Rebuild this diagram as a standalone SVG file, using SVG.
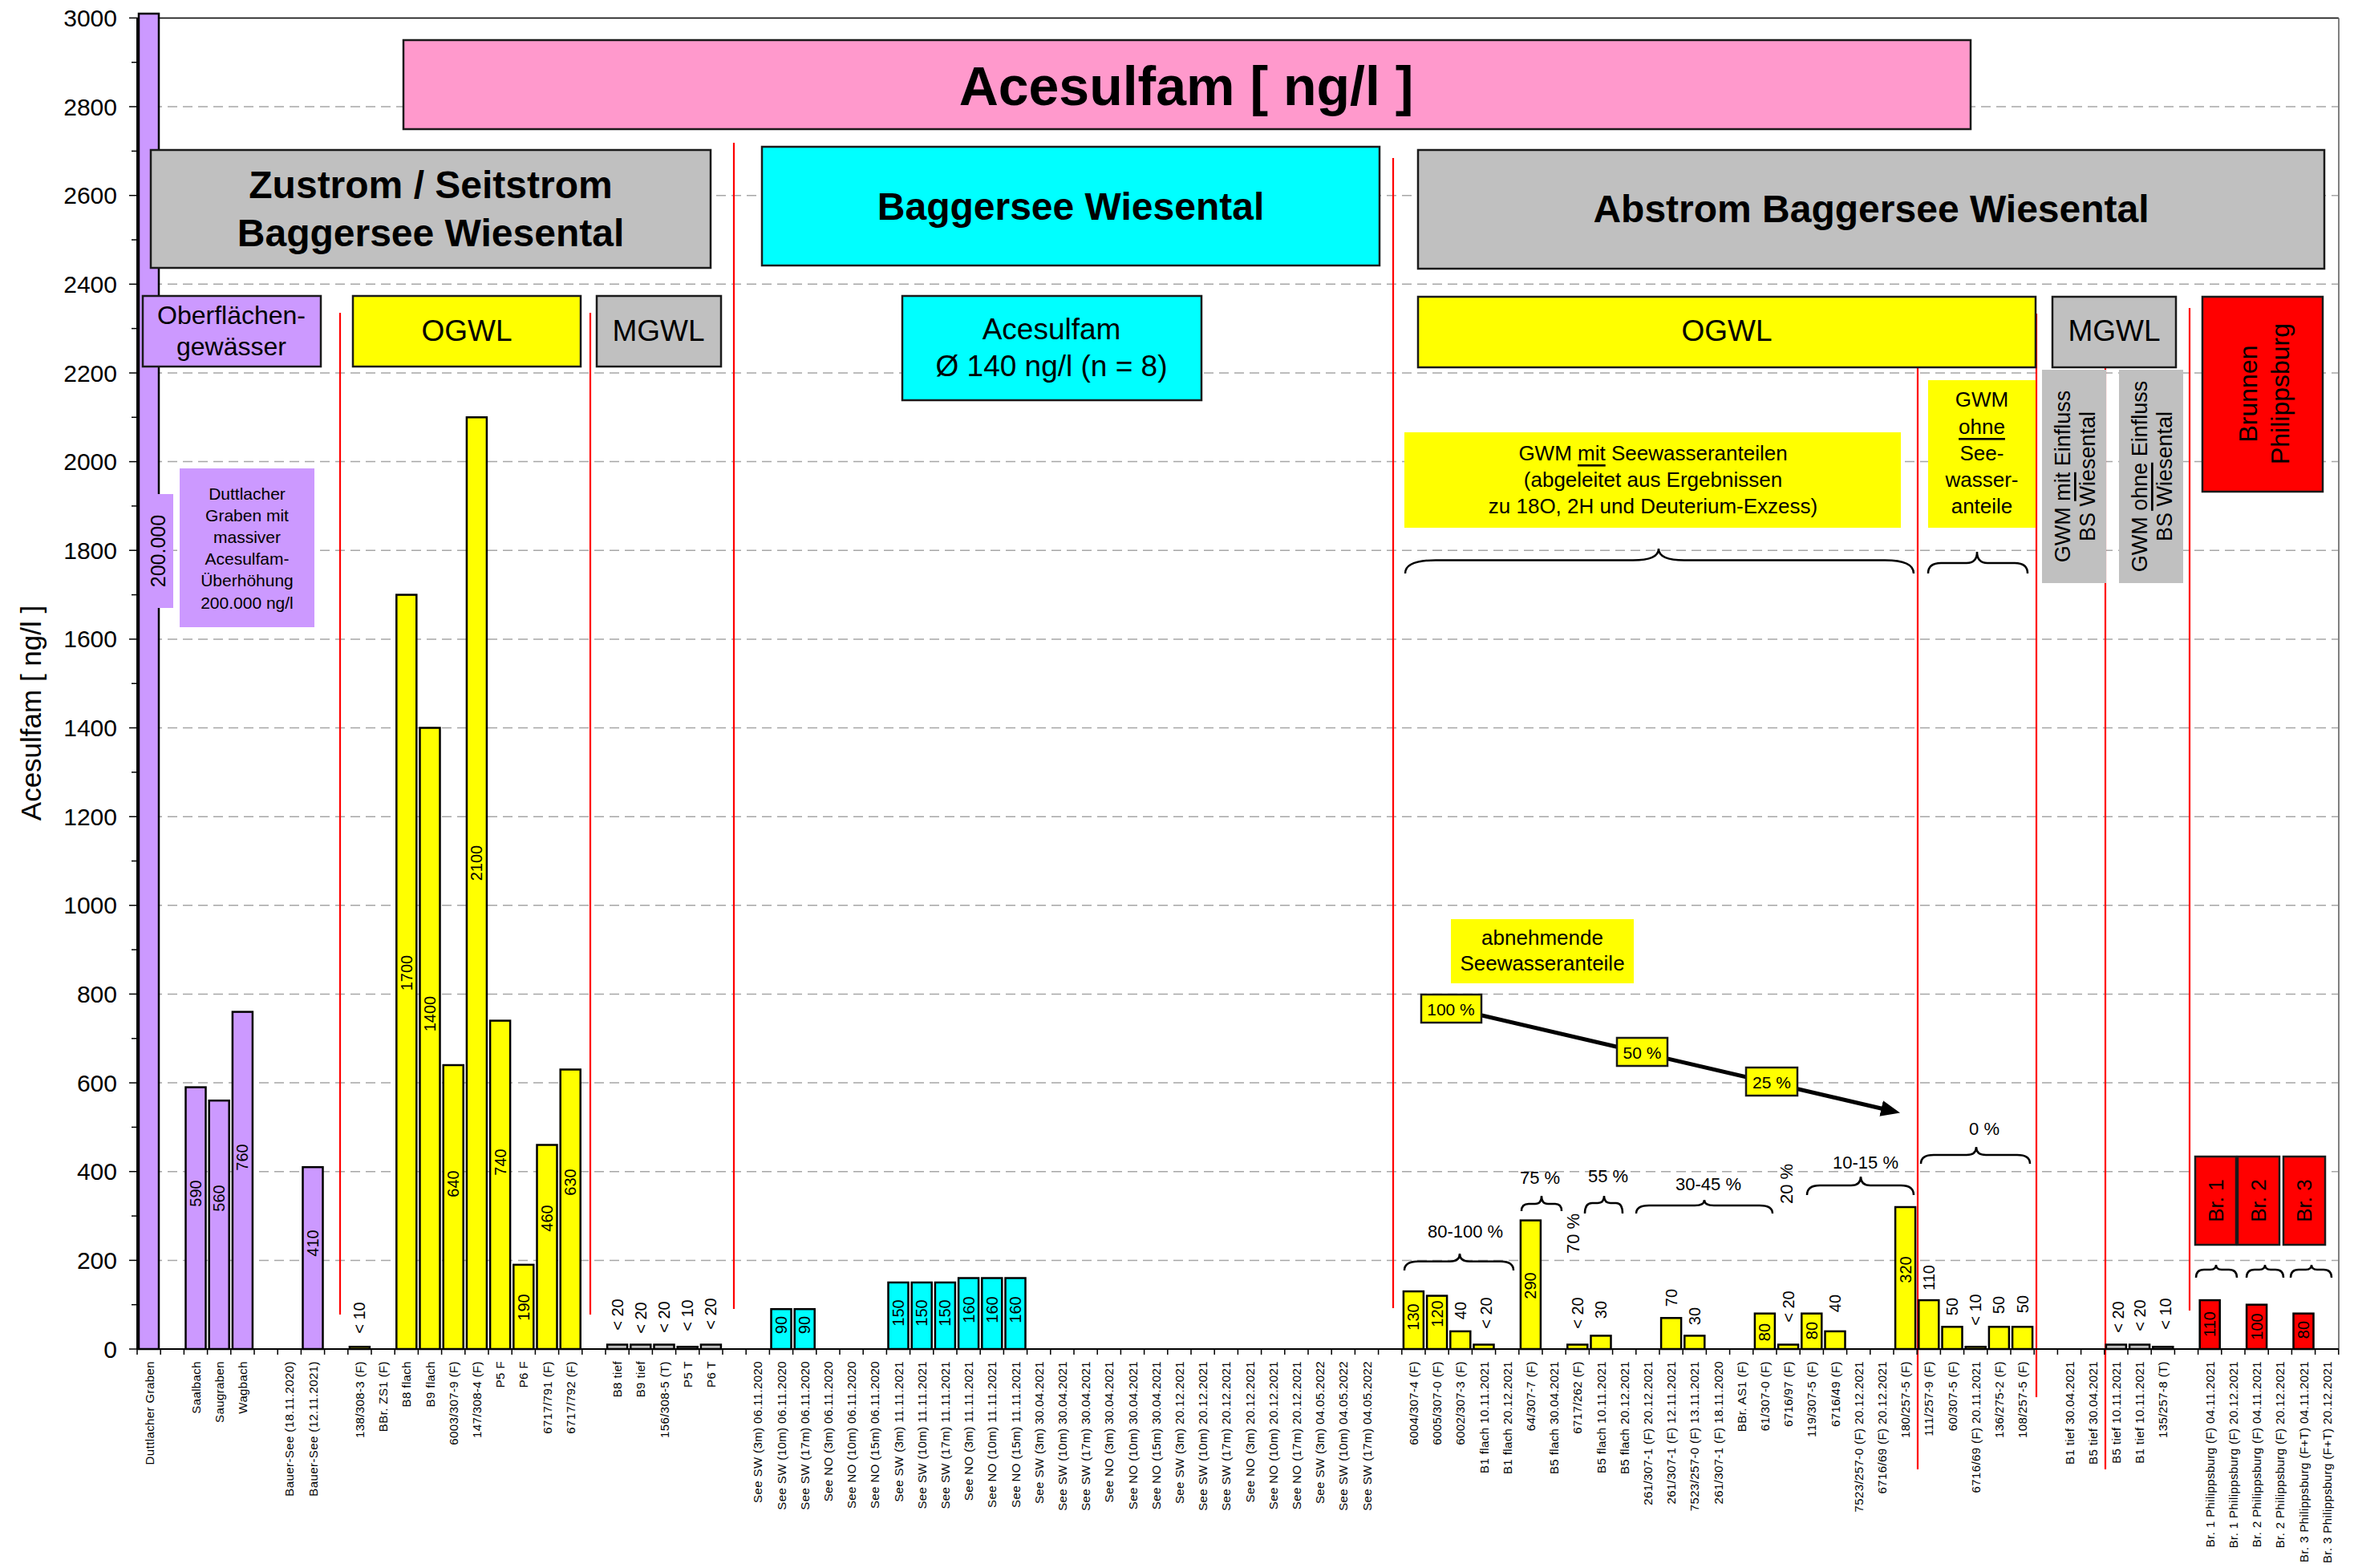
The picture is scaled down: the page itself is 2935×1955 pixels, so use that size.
<svg xmlns="http://www.w3.org/2000/svg" width="2935" height="1955" viewBox="0 0 2935 1955">
<style>
text{font-family:"Liberation Sans",Arial,sans-serif;fill:#000}
.bar{stroke:#000;stroke-width:2.5}
.pu{fill:#CC99FF}.ye{fill:#FFFF00}.cy{fill:#00FFFF}.gr{fill:#C0C0C0}.re{fill:#FF0000}.pk{fill:#FF99CC}
.box{stroke:#1a1a1a;stroke-width:2.5}
.grid{stroke:#a6a6a6;stroke-width:1.5;stroke-dasharray:12 7}
.sep{stroke:#FF0000;stroke-width:2.2}
.tick{stroke:#000;stroke-width:1.5}
.brace{fill:none;stroke:#000;stroke-width:2.5}
.xl{font-size:15px;letter-spacing:0.4px;text-anchor:end;dominant-baseline:central}
.vl{font-size:20px;text-anchor:middle;dominant-baseline:central}
.yl{font-size:30px;text-anchor:end;dominant-baseline:central}
.c{text-anchor:middle;dominant-baseline:central}
.hb{font-weight:bold;font-size:48px}
.h2{font-size:37px}
.pc{font-size:22px}
.u{text-decoration:underline}
</style>
<defs>
<marker id="arrowhead" markerUnits="userSpaceOnUse" markerWidth="26" markerHeight="22" refX="2" refY="10" orient="auto">
<path d="M0,0 L24,10 L0,20 z" fill="#000"/>
</marker>
</defs>
<rect width="2935" height="1955" fill="#fff"/>

<!-- plot frame and horizontal grid -->
<g id="grid">
<line class="grid" x1="171" y1="1571.4" x2="2916" y2="1571.4"/>
<line class="grid" x1="171" y1="1460.7" x2="2916" y2="1460.7"/>
<line class="grid" x1="171" y1="1350.1" x2="2916" y2="1350.1"/>
<line class="grid" x1="171" y1="1239.4" x2="2916" y2="1239.4"/>
<line class="grid" x1="171" y1="1128.8" x2="2916" y2="1128.8"/>
<line class="grid" x1="171" y1="1018.2" x2="2916" y2="1018.2"/>
<line class="grid" x1="171" y1="907.5" x2="2916" y2="907.5"/>
<line class="grid" x1="171" y1="796.9" x2="2916" y2="796.9"/>
<line class="grid" x1="171" y1="686.2" x2="2916" y2="686.2"/>
<line class="grid" x1="171" y1="575.6" x2="2916" y2="575.6"/>
<line class="grid" x1="171" y1="465.0" x2="2916" y2="465.0"/>
<line class="grid" x1="171" y1="354.3" x2="2916" y2="354.3"/>
<line class="grid" x1="171" y1="243.7" x2="2916" y2="243.7"/>
<line class="grid" x1="171" y1="133.0" x2="2916" y2="133.0"/>
<line x1="171" y1="22.4" x2="2916" y2="22.4" stroke="#000" stroke-width="1.5"/>
<line x1="2916" y1="22.4" x2="2916" y2="1682" stroke="#808080" stroke-width="2"/>
</g>

<!-- y axis -->
<g id="y-axis">
<line x1="171" y1="22.4" x2="171" y2="1682" stroke="#000" stroke-width="2"/>
<g class="tick">
<line x1="161" y1="1682" x2="171" y2="1682"/><line x1="161" y1="1571.4" x2="171" y2="1571.4"/><line x1="161" y1="1460.7" x2="171" y2="1460.7"/><line x1="161" y1="1350.1" x2="171" y2="1350.1"/><line x1="161" y1="1239.4" x2="171" y2="1239.4"/><line x1="161" y1="1128.8" x2="171" y2="1128.8"/><line x1="161" y1="1018.2" x2="171" y2="1018.2"/><line x1="161" y1="907.5" x2="171" y2="907.5"/><line x1="161" y1="796.9" x2="171" y2="796.9"/><line x1="161" y1="686.2" x2="171" y2="686.2"/><line x1="161" y1="575.6" x2="171" y2="575.6"/><line x1="161" y1="465.0" x2="171" y2="465.0"/><line x1="161" y1="354.3" x2="171" y2="354.3"/><line x1="161" y1="243.7" x2="171" y2="243.7"/><line x1="161" y1="133.0" x2="171" y2="133.0"/><line x1="161" y1="22.4" x2="171" y2="22.4"/>
<line x1="164" y1="1626.7" x2="171" y2="1626.7"/><line x1="164" y1="1516.1" x2="171" y2="1516.1"/><line x1="164" y1="1405.4" x2="171" y2="1405.4"/><line x1="164" y1="1294.8" x2="171" y2="1294.8"/><line x1="164" y1="1184.1" x2="171" y2="1184.1"/><line x1="164" y1="1073.5" x2="171" y2="1073.5"/><line x1="164" y1="962.8" x2="171" y2="962.8"/><line x1="164" y1="852.2" x2="171" y2="852.2"/><line x1="164" y1="741.6" x2="171" y2="741.6"/><line x1="164" y1="630.9" x2="171" y2="630.9"/><line x1="164" y1="520.3" x2="171" y2="520.3"/><line x1="164" y1="409.6" x2="171" y2="409.6"/><line x1="164" y1="299.0" x2="171" y2="299.0"/><line x1="164" y1="188.4" x2="171" y2="188.4"/><line x1="164" y1="77.7" x2="171" y2="77.7"/>
</g>
<text class="yl" x="146" y="1682">0</text>
<text class="yl" x="146" y="1571.4">200</text>
<text class="yl" x="146" y="1460.7">400</text>
<text class="yl" x="146" y="1350.1">600</text>
<text class="yl" x="146" y="1239.4">800</text>
<text class="yl" x="146" y="1128.8">1000</text>
<text class="yl" x="146" y="1018.2">1200</text>
<text class="yl" x="146" y="907.5">1400</text>
<text class="yl" x="146" y="796.9">1600</text>
<text class="yl" x="146" y="686.2">1800</text>
<text class="yl" x="146" y="575.6">2000</text>
<text class="yl" x="146" y="465.0">2200</text>
<text class="yl" x="146" y="354.3">2400</text>
<text class="yl" x="146" y="243.7">2600</text>
<text class="yl" x="146" y="133.0">2800</text>
<text class="yl" x="146" y="22.4">3000</text>
<text class="c" font-size="35" transform="translate(38,889) rotate(-90)">Acesulfam [ ng/l ]</text>
</g>

<!-- red separator lines between sampling groups -->
<g id="separators" class="sep">
<line x1="424" y1="390" x2="424" y2="1639"/>
<line x1="736" y1="390" x2="736" y2="1639"/>
<line x1="915" y1="178" x2="915" y2="1632"/>
<line x1="1737" y1="197" x2="1737" y2="1631"/>
<line x1="2391" y1="455" x2="2391" y2="1832"/>
<line x1="2539" y1="391" x2="2539" y2="1742"/>
<line x1="2625" y1="448" x2="2625" y2="1832"/>
<line x1="2730" y1="384" x2="2730" y2="1634"/>
</g>

<!-- bars -->
<g id="bars" class="bar">
<rect class="pu" x="173" y="17" width="25" height="1665"/>
<rect class="pu" x="231.5" y="1355.6" width="25" height="326.4"/>
<rect class="pu" x="260.7" y="1372.2" width="25" height="309.8"/>
<rect class="pu" x="289.9" y="1261.6" width="25" height="420.4"/>
<rect class="pu" x="377.5" y="1455.2" width="25" height="226.8"/>
<rect class="ye" x="435.9" y="1679.2" width="25" height="2.8"/>
<rect class="ye" x="494.3" y="741.6" width="25" height="940.4"/>
<rect class="ye" x="523.5" y="907.5" width="25" height="774.5"/>
<rect class="ye" x="552.7" y="1328" width="25" height="354"/>
<rect class="ye" x="581.9" y="520.3" width="25" height="1161.7"/>
<rect class="ye" x="611.1" y="1272.6" width="25" height="409.4"/>
<rect class="ye" x="640.3" y="1576.9" width="25" height="105.1"/>
<rect class="ye" x="669.5" y="1427.5" width="25" height="254.5"/>
<rect class="ye" x="698.7" y="1333.5" width="25" height="348.5"/>
<rect class="gr" x="757.1" y="1676.5" width="25" height="5.5"/>
<rect class="gr" x="786.3" y="1676.5" width="25" height="5.5"/>
<rect class="gr" x="815.5" y="1676.5" width="25" height="5.5"/>
<rect class="gr" x="844.7" y="1679.2" width="25" height="2.8"/>
<rect class="gr" x="873.9" y="1676.5" width="25" height="5.5"/>
<rect class="cy" x="961.5" y="1632.2" width="25" height="49.8"/>
<rect class="cy" x="990.7" y="1632.2" width="25" height="49.8"/>
<rect class="cy" x="1107.5" y="1599" width="25" height="83"/>
<rect class="cy" x="1136.7" y="1599" width="25" height="83"/>
<rect class="cy" x="1165.9" y="1599" width="25" height="83"/>
<rect class="cy" x="1195.1" y="1593.5" width="25" height="88.5"/>
<rect class="cy" x="1224.3" y="1593.5" width="25" height="88.5"/>
<rect class="cy" x="1253.5" y="1593.5" width="25" height="88.5"/>
<rect class="ye" x="1749.9" y="1610.1" width="25" height="71.9"/>
<rect class="ye" x="1779.1" y="1615.6" width="25" height="66.4"/>
<rect class="ye" x="1808.3" y="1659.9" width="25" height="22.1"/>
<rect class="ye" x="1837.5" y="1676.5" width="25" height="5.5"/>
<rect class="ye" x="1895.9" y="1521.6" width="25" height="160.4"/>
<rect class="ye" x="1954.3" y="1676.5" width="25" height="5.5"/>
<rect class="ye" x="1983.5" y="1665.4" width="25" height="16.6"/>
<rect class="ye" x="2071.1" y="1643.3" width="25" height="38.7"/>
<rect class="ye" x="2100.3" y="1665.4" width="25" height="16.6"/>
<rect class="ye" x="2187.9" y="1637.7" width="25" height="44.3"/>
<rect class="ye" x="2217.1" y="1676.5" width="25" height="5.5"/>
<rect class="ye" x="2246.3" y="1637.7" width="25" height="44.3"/>
<rect class="ye" x="2275.5" y="1659.9" width="25" height="22.1"/>
<rect class="ye" x="2363.1" y="1505" width="25" height="177"/>
<rect class="ye" x="2392.3" y="1621.1" width="25" height="60.9"/>
<rect class="ye" x="2421.5" y="1654.3" width="25" height="27.7"/>
<rect class="ye" x="2450.7" y="1679.2" width="25" height="2.8"/>
<rect class="ye" x="2479.9" y="1654.3" width="25" height="27.7"/>
<rect class="ye" x="2509.1" y="1654.3" width="25" height="27.7"/>
<rect class="gr" x="2625.9" y="1676.5" width="25" height="5.5"/>
<rect class="gr" x="2655.1" y="1676.5" width="25" height="5.5"/>
<rect class="gr" x="2684.3" y="1679.2" width="25" height="2.8"/>
<rect class="re" x="2742.7" y="1621.1" width="25" height="60.9"/>
<rect class="re" x="2801.1" y="1626.7" width="25" height="55.3"/>
<rect class="re" x="2859.5" y="1637.7" width="25" height="44.3"/>
</g>

<!-- x axis with category ticks -->
<g id="x-axis">
<line x1="171" y1="1682" x2="2916" y2="1682" stroke="#000" stroke-width="2"/>
<path class="tick" d="M171,1682v7M200.2,1682v7M229.4,1682v7M258.6,1682v7M287.8,1682v7M317,1682v7M346.2,1682v7M375.4,1682v7M404.6,1682v7M433.8,1682v7M463,1682v7M492.2,1682v7M521.4,1682v7M550.6,1682v7M579.8,1682v7M609,1682v7M638.2,1682v7M667.4,1682v7M696.6,1682v7M725.8,1682v7M755,1682v7M784.2,1682v7M813.4,1682v7M842.6,1682v7M871.8,1682v7M901,1682v7M930.2,1682v7M959.4,1682v7M988.6,1682v7M1017.8,1682v7M1047,1682v7M1076.2,1682v7M1105.4,1682v7M1134.6,1682v7M1163.8,1682v7M1193,1682v7M1222.2,1682v7M1251.4,1682v7M1280.6,1682v7M1309.8,1682v7M1339,1682v7M1368.2,1682v7M1397.4,1682v7M1426.6,1682v7M1455.8,1682v7M1485,1682v7M1514.2,1682v7M1543.4,1682v7M1572.6,1682v7M1601.8,1682v7M1631,1682v7M1660.2,1682v7M1689.4,1682v7M1718.6,1682v7M1747.8,1682v7M1777,1682v7M1806.2,1682v7M1835.4,1682v7M1864.6,1682v7M1893.8,1682v7M1923,1682v7M1952.2,1682v7M1981.4,1682v7M2010.6,1682v7M2039.8,1682v7M2069,1682v7M2098.2,1682v7M2127.4,1682v7M2156.6,1682v7M2185.8,1682v7M2215,1682v7M2244.2,1682v7M2273.4,1682v7M2302.6,1682v7M2331.8,1682v7M2361,1682v7M2390.2,1682v7M2419.4,1682v7M2448.6,1682v7M2477.8,1682v7M2507,1682v7M2536.2,1682v7M2565.4,1682v7M2594.6,1682v7M2623.8,1682v7M2653,1682v7M2682.2,1682v7M2711.4,1682v7M2740.6,1682v7M2769.8,1682v7M2799,1682v7M2828.2,1682v7M2857.4,1682v7M2886.6,1682v7M2915.8,1682v7"/>
</g>

<!-- category labels -->
<g id="x-labels">
<text class="xl" transform="translate(186,1697) rotate(-90)">Duttlacher Graben</text>
<text class="xl" transform="translate(244,1697) rotate(-90)">Saalbach</text>
<text class="xl" transform="translate(273.2,1697) rotate(-90)">Saugraben</text>
<text class="xl" transform="translate(302.4,1697) rotate(-90)">Wagbach</text>
<text class="xl" transform="translate(360.8,1697) rotate(-90)">Bauer-See (18.11.2020)</text>
<text class="xl" transform="translate(390,1697) rotate(-90)">Bauer-See (12.11.2021)</text>
<text class="xl" transform="translate(448.4,1697) rotate(-90)">138/308-3 (F)</text>
<text class="xl" transform="translate(477.6,1697) rotate(-90)">BBr. ZS1 (F)</text>
<text class="xl" transform="translate(506.8,1697) rotate(-90)">B8 flach</text>
<text class="xl" transform="translate(536,1697) rotate(-90)">B9 flach</text>
<text class="xl" transform="translate(565.2,1697) rotate(-90)">6003/307-9 (F)</text>
<text class="xl" transform="translate(594.4,1697) rotate(-90)">147/308-4 (F)</text>
<text class="xl" transform="translate(623.6,1697) rotate(-90)">P5 F</text>
<text class="xl" transform="translate(652.8,1697) rotate(-90)">P6 F</text>
<text class="xl" transform="translate(682,1697) rotate(-90)">6717/791 (F)</text>
<text class="xl" transform="translate(711.2,1697) rotate(-90)">6717/792 (F)</text>
<text class="xl" transform="translate(769.6,1697) rotate(-90)">B8 tief</text>
<text class="xl" transform="translate(798.8,1697) rotate(-90)">B9 tief</text>
<text class="xl" transform="translate(828,1697) rotate(-90)">156/308-5 (T)</text>
<text class="xl" transform="translate(857.2,1697) rotate(-90)">P5 T</text>
<text class="xl" transform="translate(886.4,1697) rotate(-90)">P6 T</text>
<text class="xl" transform="translate(944.8,1697) rotate(-90)">See SW (3m) 06.11.2020</text>
<text class="xl" transform="translate(974,1697) rotate(-90)">See SW (10m) 06.11.2020</text>
<text class="xl" transform="translate(1003.2,1697) rotate(-90)">See SW (17m) 06.11.2020</text>
<text class="xl" transform="translate(1032.4,1697) rotate(-90)">See NO (3m) 06.11.2020</text>
<text class="xl" transform="translate(1061.6,1697) rotate(-90)">See NO (10m) 06.11.2020</text>
<text class="xl" transform="translate(1090.8,1697) rotate(-90)">See NO (15m) 06.11.2020</text>
<text class="xl" transform="translate(1120,1697) rotate(-90)">See SW (3m) 11.11.2021</text>
<text class="xl" transform="translate(1149.2,1697) rotate(-90)">See SW (10m) 11.11.2021</text>
<text class="xl" transform="translate(1178.4,1697) rotate(-90)">See SW (17m) 11.11.2021</text>
<text class="xl" transform="translate(1207.6,1697) rotate(-90)">See NO (3m) 11.11.2021</text>
<text class="xl" transform="translate(1236.8,1697) rotate(-90)">See NO (10m) 11.11.2021</text>
<text class="xl" transform="translate(1266,1697) rotate(-90)">See NO (15m) 11.11.2021</text>
<text class="xl" transform="translate(1295.2,1697) rotate(-90)">See SW (3m) 30.04.2021</text>
<text class="xl" transform="translate(1324.4,1697) rotate(-90)">See SW (10m) 30.04.2021</text>
<text class="xl" transform="translate(1353.6,1697) rotate(-90)">See SW (17m) 30.04.2021</text>
<text class="xl" transform="translate(1382.8,1697) rotate(-90)">See NO (3m) 30.04.2021</text>
<text class="xl" transform="translate(1412,1697) rotate(-90)">See NO (10m) 30.04.2021</text>
<text class="xl" transform="translate(1441.2,1697) rotate(-90)">See NO (15m) 30.04.2021</text>
<text class="xl" transform="translate(1470.4,1697) rotate(-90)">See SW (3m) 20.12.2021</text>
<text class="xl" transform="translate(1499.6,1697) rotate(-90)">See SW (10m) 20.12.2021</text>
<text class="xl" transform="translate(1528.8,1697) rotate(-90)">See SW (17m) 20.12.2021</text>
<text class="xl" transform="translate(1558,1697) rotate(-90)">See NO (3m) 20.12.2021</text>
<text class="xl" transform="translate(1587.2,1697) rotate(-90)">See NO (10m) 20.12.2021</text>
<text class="xl" transform="translate(1616.4,1697) rotate(-90)">See NO (17m) 20.12.2021</text>
<text class="xl" transform="translate(1645.6,1697) rotate(-90)">See SW (3m) 04.05.2022</text>
<text class="xl" transform="translate(1674.8,1697) rotate(-90)">See SW (10m) 04.05.2022</text>
<text class="xl" transform="translate(1704,1697) rotate(-90)">See SW (17m) 04.05.2022</text>
<text class="xl" transform="translate(1762.4,1697) rotate(-90)">6004/307-4 (F)</text>
<text class="xl" transform="translate(1791.6,1697) rotate(-90)">6005/307-0 (F)</text>
<text class="xl" transform="translate(1820.8,1697) rotate(-90)">6002/307-3 (F)</text>
<text class="xl" transform="translate(1850,1697) rotate(-90)">B1 flach 10.11.2021</text>
<text class="xl" transform="translate(1879.2,1697) rotate(-90)">B1 flach 20.12.2021</text>
<text class="xl" transform="translate(1908.4,1697) rotate(-90)">64/307-7 (F)</text>
<text class="xl" transform="translate(1937.6,1697) rotate(-90)">B5 flach 30.04.2021</text>
<text class="xl" transform="translate(1966.8,1697) rotate(-90)">6717/262 (F)</text>
<text class="xl" transform="translate(1996,1697) rotate(-90)">B5 flach 10.11.2021</text>
<text class="xl" transform="translate(2025.2,1697) rotate(-90)">B5 flach 20.12.2021</text>
<text class="xl" transform="translate(2054.4,1697) rotate(-90)">261/307-1 (F) 20.12.2021</text>
<text class="xl" transform="translate(2083.6,1697) rotate(-90)">261/307-1 (F) 12.11.2021</text>
<text class="xl" transform="translate(2112.8,1697) rotate(-90)">7523/257-0 (F) 13.11.2021</text>
<text class="xl" transform="translate(2142,1697) rotate(-90)">261/307-1 (F) 18.11.2020</text>
<text class="xl" transform="translate(2171.2,1697) rotate(-90)">BBr. AS1 (F)</text>
<text class="xl" transform="translate(2200.4,1697) rotate(-90)">61/307-0 (F)</text>
<text class="xl" transform="translate(2229.6,1697) rotate(-90)">6716/97 (F)</text>
<text class="xl" transform="translate(2258.8,1697) rotate(-90)">119/307-5 (F)</text>
<text class="xl" transform="translate(2288,1697) rotate(-90)">6716/49 (F)</text>
<text class="xl" transform="translate(2317.2,1697) rotate(-90)">7523/257-0 (F) 20.12.2021</text>
<text class="xl" transform="translate(2346.4,1697) rotate(-90)">6716/69 (F) 20.12.2021</text>
<text class="xl" transform="translate(2375.6,1697) rotate(-90)">180/257-5 (F)</text>
<text class="xl" transform="translate(2404.8,1697) rotate(-90)">111/257-9 (F)</text>
<text class="xl" transform="translate(2434,1697) rotate(-90)">60/307-5 (F)</text>
<text class="xl" transform="translate(2463.2,1697) rotate(-90)">6716/69 (F) 20.11.2021</text>
<text class="xl" transform="translate(2492.4,1697) rotate(-90)">136/275-2 (F)</text>
<text class="xl" transform="translate(2521.6,1697) rotate(-90)">108/257-5 (F)</text>
<text class="xl" transform="translate(2580,1697) rotate(-90)">B1 tief 30.04.2021</text>
<text class="xl" transform="translate(2609.2,1697) rotate(-90)">B5 tief 30.04.2021</text>
<text class="xl" transform="translate(2638.4,1697) rotate(-90)">B5 tief 10.11.2021</text>
<text class="xl" transform="translate(2667.6,1697) rotate(-90)">B1 tief 10.11.2021</text>
<text class="xl" transform="translate(2696.8,1697) rotate(-90)">135/257-8 (T)</text>
<text class="xl" transform="translate(2755.2,1697) rotate(-90)">Br. 1 Philippsburg (F) 04.11.2021</text>
<text class="xl" transform="translate(2784.4,1697) rotate(-90)">Br. 1 Philippsburg (F) 20.12.2021</text>
<text class="xl" transform="translate(2813.6,1697) rotate(-90)">Br. 2 Philippsburg (F) 04.11.2021</text>
<text class="xl" transform="translate(2842.8,1697) rotate(-90)">Br. 2 Philippsburg (F) 20.12.2021</text>
<text class="xl" transform="translate(2872,1697) rotate(-90)">Br. 3 Philippsburg (F+T) 04.11.2021</text>
<text class="xl" transform="translate(2901.2,1697) rotate(-90)">Br. 3 Philippsburg (F+T) 20.12.2021</text>
</g>

<!-- value labels -->
<g id="value-labels">
<text class="vl" transform="translate(244,1488) rotate(-90)">590</text>
<text class="vl" transform="translate(273.2,1494) rotate(-90)">560</text>
<text class="vl" transform="translate(302.4,1443) rotate(-90)">760</text>
<text class="vl" transform="translate(390,1550) rotate(-90)">410</text>
<text class="vl" transform="translate(448.4,1643) rotate(-90)">&lt; 10</text>
<text class="vl" transform="translate(506.8,1213) rotate(-90)">1700</text>
<text class="vl" transform="translate(536,1264) rotate(-90)">1400</text>
<text class="vl" transform="translate(565.2,1476) rotate(-90)">640</text>
<text class="vl" transform="translate(594.4,1076) rotate(-90)">2100</text>
<text class="vl" transform="translate(623.6,1449) rotate(-90)">740</text>
<text class="vl" transform="translate(652.8,1630) rotate(-90)">190</text>
<text class="vl" transform="translate(682,1519) rotate(-90)">460</text>
<text class="vl" transform="translate(711.2,1474) rotate(-90)">630</text>
<text class="vl" transform="translate(769.6,1639) rotate(-90)">&lt; 20</text>
<text class="vl" transform="translate(798.8,1643) rotate(-90)">&lt; 20</text>
<text class="vl" transform="translate(828,1642) rotate(-90)">&lt; 20</text>
<text class="vl" transform="translate(857.2,1640) rotate(-90)">&lt; 10</text>
<text class="vl" transform="translate(886.4,1638) rotate(-90)">&lt; 20</text>
<text class="vl" transform="translate(974,1652) rotate(-90)">90</text>
<text class="vl" transform="translate(1003.2,1652) rotate(-90)">90</text>
<text class="vl" transform="translate(1120,1637) rotate(-90)">150</text>
<text class="vl" transform="translate(1149.2,1637) rotate(-90)">150</text>
<text class="vl" transform="translate(1178.4,1637) rotate(-90)">150</text>
<text class="vl" transform="translate(1207.6,1633) rotate(-90)">160</text>
<text class="vl" transform="translate(1236.8,1633) rotate(-90)">160</text>
<text class="vl" transform="translate(1266,1633) rotate(-90)">160</text>
<text class="vl" transform="translate(1762.4,1642) rotate(-90)">130</text>
<text class="vl" transform="translate(1791.6,1638) rotate(-90)">120</text>
<text class="vl" transform="translate(1820.8,1634) rotate(-90)">40</text>
<text class="vl" transform="translate(1853,1637) rotate(-90)">&lt; 20</text>
<text class="vl" transform="translate(1908.4,1603) rotate(-90)">290</text>
<text class="vl" transform="translate(1966.8,1637) rotate(-90)">&lt; 20</text>
<text class="vl" transform="translate(1996,1633) rotate(-90)">30</text>
<text class="vl" transform="translate(2083.6,1618) rotate(-90)">70</text>
<text class="vl" transform="translate(2112.8,1641) rotate(-90)">30</text>
<text class="vl" transform="translate(2200.4,1661) rotate(-90)">80</text>
<text class="vl" transform="translate(2229.6,1629) rotate(-90)">&lt; 20</text>
<text class="vl" transform="translate(2258.8,1659) rotate(-90)">80</text>
<text class="vl" transform="translate(2288,1625) rotate(-90)">40</text>
<text class="vl" transform="translate(2375.6,1583) rotate(-90)">320</text>
<text class="vl" transform="translate(2404.8,1593) rotate(-90)">110</text>
<text class="vl" transform="translate(2434,1629) rotate(-90)">50</text>
<text class="vl" transform="translate(2463.2,1633) rotate(-90)">&lt; 10</text>
<text class="vl" transform="translate(2492.4,1627) rotate(-90)">50</text>
<text class="vl" transform="translate(2521.6,1626) rotate(-90)">50</text>
<text class="vl" transform="translate(2641,1642) rotate(-90)">&lt; 20</text>
<text class="vl" transform="translate(2668,1640) rotate(-90)">&lt; 20</text>
<text class="vl" transform="translate(2700,1638) rotate(-90)">&lt; 10</text>
<text class="vl" transform="translate(2755.2,1651) rotate(-90)">110</text>
<text class="vl" transform="translate(2813.6,1654) rotate(-90)">100</text>
<text class="vl" transform="translate(2872,1658) rotate(-90)">80</text>
</g>

<!-- title -->
<g id="title">
<rect class="pk box" x="503" y="50" width="1954" height="111"/>
<text class="c" x="1479" y="107" font-size="68" font-weight="bold">Acesulfam [ ng/l ]</text>
</g>

<!-- left section: inflow -->
<g id="zustrom">
<rect class="gr box" x="188" y="187" width="698" height="147"/>
<text class="c hb" x="537" y="230">Zustrom / Seitstrom</text>
<text class="c hb" x="537" y="290">Baggersee Wiesental</text>
</g>
<g id="oberflaechengewaesser">
<rect class="pu box" x="178" y="369" width="222" height="88"/>
<text class="c" x="288.5" y="393" font-size="32">Oberflächen-</text>
<text class="c" x="288.5" y="432" font-size="32">gewässer</text>
</g>
<g id="ogwl-zustrom">
<rect class="ye box" x="440" y="369" width="284" height="88"/>
<text class="c h2" x="582" y="412">OGWL</text>
</g>
<g id="mgwl-zustrom">
<rect class="gr box" x="744" y="369" width="155" height="88"/>
<text class="c h2" x="821" y="412">MGWL</text>
</g>
<g id="duttlacher-note">
<rect class="pu" x="179" y="616" width="37" height="142"/>
<text class="c" font-size="25" transform="translate(197,687) rotate(-90)">200.000</text>
<rect class="pu" x="224" y="584" width="168" height="198"/>
<text class="c" font-size="21" x="308" y="615">Duttlacher</text>
<text class="c" font-size="21" x="308" y="642">Graben mit</text>
<text class="c" font-size="21" x="308" y="669">massiver</text>
<text class="c" font-size="21" x="308" y="696">Acesulfam-</text>
<text class="c" font-size="21" x="308" y="723">Überhöhung</text>
<text class="c" font-size="21" x="308" y="751">200.000 ng/l</text>
</g>

<!-- middle section: lake -->
<g id="baggersee">
<rect class="cy box" x="950" y="183" width="770" height="148"/>
<text class="c hb" x="1335" y="257">Baggersee Wiesental</text>
</g>
<g id="see-mittelwert">
<rect class="cy box" x="1125" y="369" width="373" height="130"/>
<text class="c h2" x="1311" y="410">Acesulfam</text>
<text class="c h2" x="1311" y="456">Ø 140 ng/l (n = 8)</text>
</g>

<!-- right section: outflow -->
<g id="abstrom">
<rect class="gr box" x="1768" y="187" width="1130" height="148"/>
<text class="c hb" x="2333" y="260">Abstrom Baggersee Wiesental</text>
</g>
<g id="ogwl-abstrom">
<rect class="ye box" x="1768" y="370" width="770" height="88"/>
<text class="c h2" x="2153" y="412">OGWL</text>
</g>
<g id="mgwl-abstrom">
<rect class="gr box" x="2559" y="370" width="154" height="88"/>
<text class="c h2" x="2636" y="412">MGWL</text>
</g>
<g id="brunnen">
<rect class="re box" x="2746" y="370" width="150" height="243"/>
<text class="c" font-size="32" transform="translate(2803,491) rotate(-90)">Brunnen</text>
<text class="c" font-size="32" transform="translate(2843,491) rotate(-90)">Philippsburg</text>
</g>
<g id="gwm-mit-seewasser">
<rect class="ye" x="1751" y="539" width="619" height="119"/>
<text class="c" font-size="26" x="2061" y="565">GWM <tspan class="u">mit</tspan> Seewasseranteilen</text>
<text class="c" font-size="26" x="2061" y="598">(abgeleitet aus Ergebnissen</text>
<text class="c" font-size="26" x="2061" y="631">zu 18O, 2H und Deuterium-Exzess)</text>
</g>
<g id="gwm-ohne-seewasser">
<rect class="ye" x="2404" y="474" width="134" height="184"/>
<text class="c" font-size="26" x="2471" y="498">GWM</text>
<text class="c" font-size="26" x="2471" y="532"><tspan class="u">ohne</tspan></text>
<text class="c" font-size="26" x="2471" y="565">See-</text>
<text class="c" font-size="26" x="2471" y="598">wasser-</text>
<text class="c" font-size="26" x="2471" y="631">anteile</text>
</g>
<g id="gwm-mit-einfluss">
<rect class="gr" x="2546" y="461" width="80" height="266"/>
<text class="c" font-size="27" transform="translate(2572,594) rotate(-90)">GWM <tspan class="u">mit</tspan> Einfluss</text>
<text class="c" font-size="27" transform="translate(2603,594) rotate(-90)">BS Wiesental</text>
</g>
<g id="gwm-ohne-einfluss">
<rect class="gr" x="2642" y="461" width="80" height="266"/>
<text class="c" font-size="27" transform="translate(2668,594) rotate(-90)">GWM <tspan class="u">ohne</tspan> Einfluss</text>
<text class="c" font-size="27" transform="translate(2699,594) rotate(-90)">BS Wiesental</text>
</g>

<!-- braces grouping the outflow wells -->
<g id="braces" class="brace">
<path d="M1752,715 Q1752,698.5 1790,698.5 L2036,698.5 Q2068,698.5 2068,684 Q2068,698.5 2100,698.5 L2350,698.5 Q2386,698.5 2386,715"/>
<path d="M2404,715 Q2404,702 2420,702 L2452,702 Q2465,702 2465,688 Q2465,702 2478,702 L2512,702 Q2528,702 2528,715"/>
<path d="M1751,1584 Q1751,1572.7 1768,1572.7 L1808,1572.7 Q1820,1572.7 1820,1563 Q1820,1572.7 1832,1572.7 L1871,1572.7 Q1887,1572.7 1887,1584"/>
<path d="M1897,1510 Q1897,1501 1906,1501 L1914,1501 Q1922,1501 1922,1491 Q1922,1501 1930,1501 L1939,1501 Q1947,1501 1947,1510"/>
<path d="M1976,1513 Q1976,1500 1985,1500 L1992,1500 Q2000,1500 2000,1491 Q2000,1500 2008,1500 L2015,1500 Q2023,1500 2023,1513"/>
<path d="M2040,1513 Q2040,1503 2056,1503 L2113,1503 Q2125,1503 2125,1496 Q2125,1503 2137,1503 L2194,1503 Q2210,1503 2210,1513"/>
<path d="M2253,1490 Q2253,1478 2269,1478 L2308,1478 Q2320,1478 2320,1467 Q2320,1478 2332,1478 L2370,1478 Q2386,1478 2386,1490"/>
<path d="M2395,1451 Q2395,1440 2411,1440 L2452,1440 Q2464,1440 2464,1430 Q2464,1440 2476,1440 L2515,1440 Q2531,1440 2531,1451"/>
<path d="M2738,1593 Q2738,1583 2748,1583 L2756,1583 Q2763,1583 2763,1577 Q2763,1583 2770,1583 L2779,1583 Q2789,1583 2789,1593"/>
<path d="M2801,1593 Q2801,1583 2811,1583 L2817,1583 Q2824,1583 2824,1577 Q2824,1583 2831,1583 L2837,1583 Q2847,1583 2847,1593"/>
<path d="M2856,1593 Q2856,1583 2866,1583 L2875,1583 Q2882,1583 2882,1577 Q2882,1583 2889,1583 L2897,1583 Q2907,1583 2907,1593"/>
</g>

<!-- seawater share annotations -->
<g id="seewasser-anteile">
<text class="c pc" x="1827" y="1535">80-100 %</text>
<text class="c pc" x="1920" y="1468">75 %</text>
<text class="c pc" transform="translate(1961,1538) rotate(-90)">70 %</text>
<text class="c pc" x="2005" y="1466">55 %</text>
<text class="c pc" x="2130" y="1476">30-45 %</text>
<text class="c pc" transform="translate(2227,1476) rotate(-90)">20 %</text>
<text class="c pc" x="2326" y="1449">10-15 %</text>
<text class="c pc" x="2474" y="1407">0 %</text>
</g>

<!-- decreasing lake-water share trend -->
<g id="trend">
<rect class="ye" x="1809" y="1146" width="228" height="80"/>
<text class="c" font-size="26" x="1923" y="1169">abnehmende</text>
<text class="c" font-size="26" x="1923" y="1201">Seewasseranteile</text>
<line x1="1809" y1="1257" x2="2347.6" y2="1382.5" stroke="#000" stroke-width="5" marker-end="url(#arrowhead)"/>
<rect class="ye box" x="1772" y="1240" width="75" height="35"/>
<text class="c" font-size="21" x="1809" y="1258">100 %</text>
<rect class="ye box" x="2016" y="1294" width="63" height="35"/>
<text class="c" font-size="21" x="2047.5" y="1312">50 %</text>
<rect class="ye box" x="2177" y="1331" width="64" height="35"/>
<text class="c" font-size="21" x="2209" y="1349">25 %</text>
</g>

<!-- production wells -->
<g id="br1">
<rect class="re box" x="2737" y="1442" width="51" height="110"/>
<text class="c" font-size="26" transform="translate(2763,1497) rotate(-90)">Br. 1</text>
</g>
<g id="br2">
<rect class="re box" x="2790" y="1442" width="52" height="110"/>
<text class="c" font-size="26" transform="translate(2816,1497) rotate(-90)">Br. 2</text>
</g>
<g id="br3">
<rect class="re box" x="2847" y="1442" width="52" height="110"/>
<text class="c" font-size="26" transform="translate(2873,1497) rotate(-90)">Br. 3</text>
</g>
</svg>
